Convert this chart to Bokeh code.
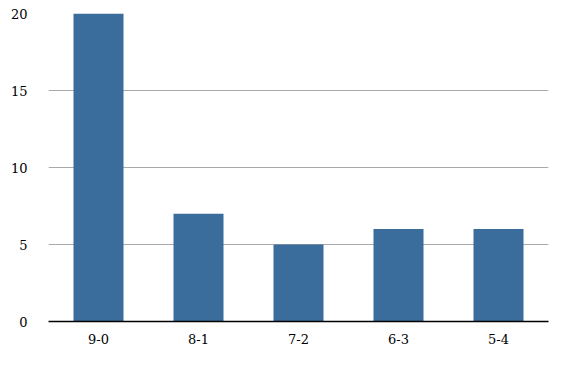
from bokeh.plotting import figure
from bokeh.models import FixedTicker, Range1d
from bokeh.embed import file_html
from bokeh.resources import INLINE

categories = ["9-0", "8-1", "7-2", "6-3", "5-4"]
counts = [20, 7, 5, 6, 6]
y_ticks = [0, 5, 10, 15, 20]

FONT = "DejaVu Serif"

p = figure(x_range=categories, y_range=Range1d(0, 20), width=564, height=354,
           output_backend="svg", toolbar_location=None,
           min_border_left=48, min_border_right=16, min_border_top=13, min_border_bottom=33)
p.outline_line_color = None
p.vbar(x=categories, top=counts, width=0.5, color="#3A6D9B", line_color=None)

p.xgrid.grid_line_color = None
p.ygrid.ticker = FixedTicker(ticks=y_ticks)
p.ygrid.grid_line_color = "#AAAAAA"
p.ygrid.grid_line_width = 1

p.yaxis.ticker = FixedTicker(ticks=y_ticks)
p.yaxis.axis_line_color = None
p.yaxis.major_tick_line_color = None
p.yaxis.minor_tick_line_color = None
p.yaxis.major_label_standoff = 15
p.yaxis.major_label_text_font = FONT
p.yaxis.major_label_text_font_size = "13px"
p.yaxis.major_label_text_color = "#000000"

p.xaxis.axis_line_color = "#000000"
p.xaxis.axis_line_width = 1.5
p.xaxis.major_tick_line_color = None
p.xaxis.minor_tick_line_color = None
p.xaxis.major_label_standoff = 6
p.xaxis.major_label_text_font = FONT
p.xaxis.major_label_text_font_size = "13px"
p.xaxis.major_label_text_color = "#000000"

open("out.html", "w").write(file_html(p, INLINE))
